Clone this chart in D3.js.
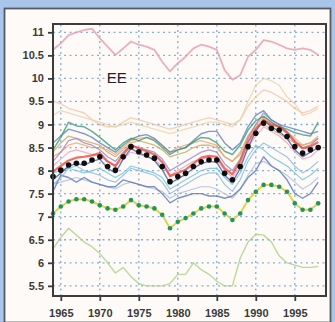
<!DOCTYPE html>
<html><head><meta charset="utf-8">
<script src="https://cdn.jsdelivr.net/npm/d3@7"></script>
<style>
html,body{margin:0;padding:0;background:#a9c6ea;}
svg{display:block;}
</style></head>
<body>
<svg id="chart" width="335" height="322"></svg>
<script>
const years = d3.range(1964, 1999);
const yTicks = [5.5,6,6.5,7,7.5,8,8.5,9,9.5,10,10.5,11];
const xTicks = [1965,1970,1975,1980,1985,1990,1995];
const panelLabel = "EE";

const obs = [7.87,8.01,8.12,8.16,8.16,8.23,8.30,8.09,8.01,8.30,8.52,8.41,8.34,8.27,8.09,7.76,7.87,7.94,8.09,8.19,8.23,8.23,7.94,7.80,8.09,8.52,8.81,9.03,8.92,8.88,8.74,8.52,8.38,8.45,8.50];
const greenObs = [7.07,7.22,7.33,7.38,7.38,7.33,7.25,7.18,7.15,7.22,7.36,7.25,7.22,7.18,7.04,6.75,6.89,6.97,7.07,7.18,7.22,7.22,7.07,6.93,7.07,7.36,7.54,7.69,7.69,7.65,7.54,7.29,7.15,7.15,7.29];

const pinkTop = [10.62,10.76,10.94,11.0,11.05,11.08,10.87,10.69,10.51,10.65,10.8,10.73,10.69,10.62,10.36,10.15,10.33,10.47,10.65,10.73,10.69,10.62,10.18,9.97,10.07,10.47,10.62,10.83,10.8,10.73,10.65,10.62,10.65,10.62,10.51];
const peach = [9.5,9.45,9.35,9.3,9.25,9.1,9.0,8.95,8.95,9.05,9.15,9.1,9.05,9.0,8.95,8.9,8.95,9.0,9.05,9.1,9.15,9.1,9.05,9.0,9.1,9.4,9.6,9.75,9.7,9.6,9.5,9.35,9.25,9.3,9.4];
const tan = [9.2,9.3,9.25,9.2,9.15,9.1,9.05,9.0,8.95,9.0,9.05,9.0,8.95,8.9,8.85,8.8,8.85,8.9,8.95,9.0,9.05,9.05,9.0,8.95,9.1,9.5,9.85,10.0,9.95,9.85,9.6,9.45,9.2,9.25,9.35];
const teal = [8.45,8.72,9.05,8.97,8.95,8.85,8.72,8.58,8.45,8.6,8.7,8.65,8.72,8.65,8.5,8.35,8.45,8.5,8.62,8.72,8.7,8.6,8.42,8.35,8.55,8.88,9.08,9.18,9.05,8.95,8.9,8.82,8.78,8.75,9.05];
const steel = [8.6,8.75,8.9,8.85,8.8,8.72,8.6,8.5,8.4,8.55,8.68,8.75,8.78,8.7,8.55,8.4,8.45,8.5,8.65,8.8,8.85,8.85,8.6,8.45,8.6,8.95,9.2,9.3,9.1,9.0,8.95,8.9,8.85,8.8,8.85];
const orange = [8.3,8.4,8.55,8.6,8.55,8.5,8.5,8.45,8.35,8.5,8.65,8.7,8.72,8.68,8.55,8.4,8.5,8.55,8.6,8.65,8.6,8.55,8.3,8.2,8.4,8.75,9.0,9.15,9.05,8.95,8.85,8.7,8.55,8.6,8.75];
const olive = [8.4,8.6,8.75,8.7,8.65,8.6,8.55,8.4,8.3,8.45,8.6,8.65,8.6,8.55,8.45,8.3,8.35,8.4,8.5,8.55,8.55,8.5,8.3,8.2,8.35,8.75,8.95,9.0,8.9,8.8,8.7,8.6,8.55,8.6,8.7];
const purple = [8.2,8.4,8.65,8.7,8.6,8.55,8.45,8.3,8.2,8.4,8.55,8.5,8.45,8.4,8.25,8.0,8.1,8.2,8.3,8.4,8.45,8.4,8.15,8.0,8.25,8.7,9.0,9.25,9.1,9.0,8.85,8.65,8.5,8.55,8.7];
const pinkMid = [8.1,8.25,8.4,8.45,8.4,8.35,8.3,8.2,8.1,8.25,8.4,8.35,8.3,8.25,8.1,7.9,8.0,8.1,8.2,8.25,8.3,8.25,8.0,7.85,8.1,8.5,8.75,8.95,8.85,8.75,8.6,8.4,8.25,8.3,8.45];
const darkBlue = [7.8,7.95,8.1,8.15,8.12,8.2,8.25,8.05,7.95,8.25,8.48,8.38,8.32,8.22,8.02,7.72,7.82,7.92,8.05,8.15,8.2,8.18,7.9,7.75,8.05,8.5,8.85,9.1,8.95,8.85,8.7,8.45,8.3,8.4,8.5];
const red = [7.98,8.10,8.22,8.28,8.30,8.33,8.38,8.20,8.10,8.35,8.55,8.48,8.42,8.35,8.18,7.88,7.95,8.02,8.15,8.28,8.32,8.30,8.05,7.92,8.20,8.62,8.90,9.10,9.00,8.95,8.82,8.62,8.48,8.52,8.62];
const cyan = [7.95,8.0,8.05,8.0,7.95,8.0,8.05,7.95,7.85,7.95,8.1,8.05,8.0,7.95,7.85,7.6,7.7,7.8,7.9,8.0,8.05,8.05,7.85,7.7,7.95,8.3,8.55,8.45,8.3,8.2,8.1,7.95,7.8,7.9,8.05];
const lightBlue = [7.7,7.85,8.05,8.1,8.0,7.95,7.9,7.8,7.75,7.9,8.05,8.0,7.95,7.9,7.75,7.5,7.6,7.7,7.8,7.9,7.95,7.95,7.7,7.55,7.8,8.2,8.45,8.6,8.5,8.4,8.3,8.1,7.95,8.05,8.2];
const grayBlue = [7.7,7.75,7.8,7.85,7.8,7.75,7.7,7.65,7.6,7.7,7.75,7.7,7.65,7.6,7.55,7.4,7.5,7.55,7.6,7.65,7.65,7.6,7.5,7.4,7.6,7.9,8.15,8.2,8.1,8.0,7.9,7.75,7.6,7.7,7.85];
const blueLow = [7.55,7.9,7.85,7.75,7.85,7.75,7.7,7.65,7.65,7.8,7.75,7.7,7.65,7.65,7.5,7.3,7.4,7.45,7.5,7.5,7.45,7.45,7.4,7.45,7.6,7.85,8.0,8.3,8.1,8.0,7.8,7.5,7.4,7.5,7.75];
const greenLow = [6.3,6.55,6.75,6.6,6.45,6.35,6.2,6.0,5.78,5.9,5.7,5.55,5.5,5.5,5.5,5.55,5.75,5.75,6.0,5.85,5.75,5.6,5.5,5.5,6.1,6.45,6.62,6.6,6.45,6.15,6.0,5.95,5.9,5.9,5.92];

const models = [
  {v: pinkTop, c: "#e49aa6", w: 1.8},
  {v: peach, c: "#f4c6a8", w: 1.4},
  {v: tan, c: "#e6d4a8", w: 1.3},
  {v: greenLow, c: "#a8d080", w: 1.4},
  {v: grayBlue, c: "#a8bcdc", w: 1.2},
  {v: blueLow, c: "#5676b6", w: 1.4},
  {v: lightBlue, c: "#86b6e2", w: 1.2},
  {v: cyan, c: "#6cc0dc", w: 1.2},
  {v: olive, c: "#c8a860", w: 1.3},
  {v: orange, c: "#f2a468", w: 1.3},
  {v: purple, c: "#9684c4", w: 1.3},
  {v: pinkMid, c: "#e8a0b8", w: 1.2},
  {v: steel, c: "#5a82bc", w: 1.4},
  {v: teal, c: "#3e9a74", w: 1.5},
  {v: darkBlue, c: "#3c5ca6", w: 1.4},
  {v: red, c: "#e8483c", w: 2.2}
];

const svg = d3.select("#chart");
const defs = svg.append("defs");
defs.append("filter").attr("id","soft").attr("x","-5%").attr("y","-5%").attr("width","110%").attr("height","110%")
  .append("feGaussianBlur").attr("stdDeviation", 0.45);

svg.append("rect").attr("x",0).attr("y",0).attr("width",335).attr("height",322).attr("fill","#a9c6ea");
svg.append("rect").attr("x",4.5).attr("y",8.5).attr("width",326).attr("height",314).attr("fill","#fefaf8").attr("stroke","#555a60").attr("stroke-width",1.8);

const x = d3.scaleLinear().domain([1964, 1999]).range([53, 326]);
const y = d3.scaleLinear().domain([5.28, 11.18]).range([296, 24]);

const g = svg.append("g").attr("filter","url(#soft)");
g.selectAll(".hg").data(yTicks).join("line")
  .attr("x1", x.range()[0]).attr("x2", x.range()[1])
  .attr("y1", d=>y(d)).attr("y2", d=>y(d))
  .attr("stroke", "#86aed6").attr("stroke-width", 1.3).attr("stroke-dasharray", "2,3.5");
g.selectAll(".vg").data(xTicks).join("line")
  .attr("y1", y.range()[0]).attr("y2", y.range()[1])
  .attr("x1", d=>x(d)).attr("x2", d=>x(d))
  .attr("stroke", "#86aed6").attr("stroke-width", 1.3).attr("stroke-dasharray", "2,3.5");

const line = d3.line().x((d,i)=>x(years[i])).y(d=>y(d)).curve(d3.curveLinear);

models.forEach(m => {
  g.append("path").attr("d", line(m.v)).attr("fill","none")
    .attr("stroke", m.c).attr("stroke-width", m.w).attr("stroke-opacity", 0.78)
    .attr("stroke-linejoin","round");
});

g.append("path").attr("d", line(greenObs)).attr("fill","none")
  .attr("stroke", "#dcd44a").attr("stroke-width", 2);
g.selectAll(".gd").data(greenObs).join("circle")
  .attr("cx", (d,i)=>x(years[i])).attr("cy", d=>y(d)).attr("r", 2.3)
  .attr("fill", "#22955a");

g.selectAll(".bd").data(obs).join("circle")
  .attr("cx", (d,i)=>x(years[i])).attr("cy", d=>y(d)).attr("r", 2.8)
  .attr("fill", "#111");

svg.append("rect").attr("x", 53).attr("y", 24).attr("width", 273).attr("height", 272)
  .attr("fill","none").attr("stroke","#3c3c3c").attr("stroke-width",2);

const fmt = d => String(d);
const ya = svg.append("g").attr("transform","translate(53,0)")
  .call(d3.axisLeft(y).tickValues(yTicks).tickFormat(fmt).tickSize(5).tickPadding(4));
const xa = svg.append("g").attr("transform","translate(0,296)")
  .call(d3.axisBottom(x).tickValues(xTicks).tickFormat(d3.format("d")).tickSize(5).tickPadding(8));
[ya, xa].forEach(a => {
  a.select(".domain").remove();
  a.selectAll(".tick line").attr("stroke","#3c3c3c").attr("stroke-width",1.8);
  a.selectAll(".tick text").attr("fill","#3a3a3a").style("font-family","Liberation Sans, Arial, sans-serif")
    .style("font-size","11px").style("font-weight","bold");
});

svg.append("text").attr("x", x(1970.9)).attr("y", y(9.9))
  .text(panelLabel).attr("fill","#222").style("font-family","Liberation Sans, Arial, sans-serif")
  .style("font-size","15px");
</script>
</body></html>
